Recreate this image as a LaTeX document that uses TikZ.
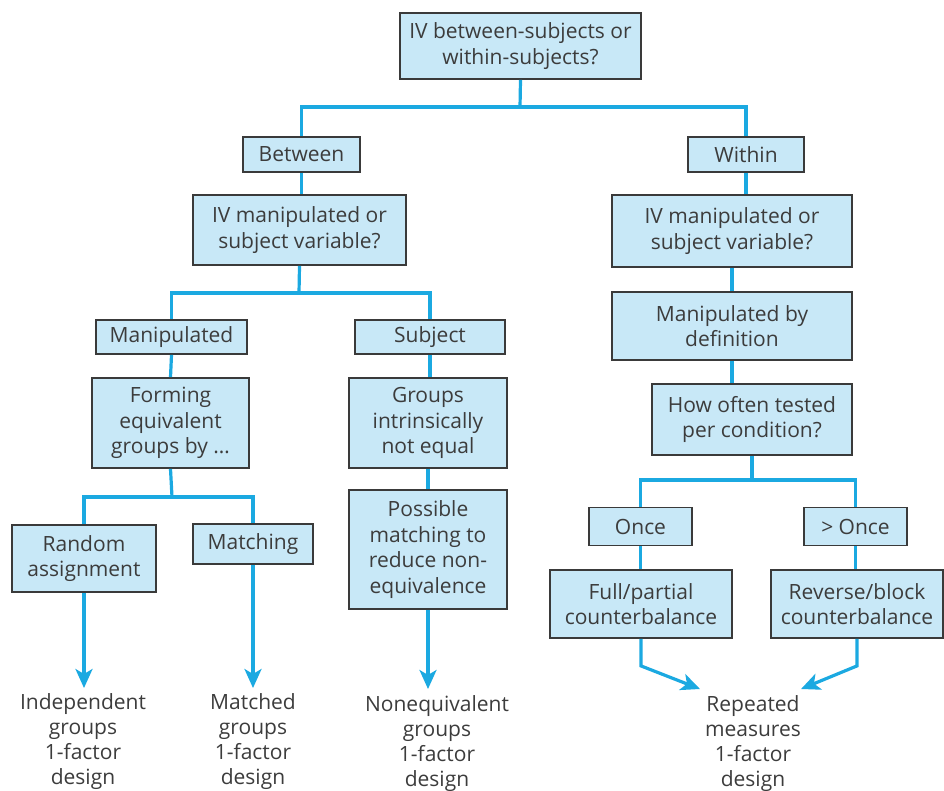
\documentclass[tikz,border=0pt]{standalone}
\usepackage{fontspec}
\setmainfont{Open Sans}
\usetikzlibrary{arrows.meta}
\definecolor{boxfill}{HTML}{C8E8F7}
\definecolor{boxline}{HTML}{3A3A3A}
\definecolor{conncol}{HTML}{1BA9E1}
\definecolor{txtcol}{HTML}{3C3C3C}
\tikzset{
  bx/.style={draw=boxline, fill=boxfill, line width=1.8pt, align=center, inner sep=0pt,
    text=txtcol, font=\fontsize{21}{25.5}\selectfont},
  lbl/.style={align=center, inner sep=0pt, text=txtcol, font=\fontsize{21}{25}\selectfont, anchor=north},
  conn/.style={draw=conncol, line width=3.2pt},
  arr/.style={conn, -{Stealth[length=19pt,width=17pt,inset=5pt]}}
}
\begin{document}
\begin{tikzpicture}[x=1pt,y=-1pt]
\useasboundingbox (0,0) rectangle (944,790);
% boxes
\node[bx, minimum width=241pt, minimum height=66pt] (top) at (520.5,46) {IV between-subjects or\\within-subjects?};
\node[bx, minimum width=117pt, minimum height=35pt] (between) at (301.5,154.5) {Between};
\node[bx, minimum width=116pt, minimum height=35pt] (within) at (746,154.5) {Within};
\node[bx, minimum width=213pt, minimum height=70pt] (ivL) at (299.5,230) {IV manipulated or\\subject variable?};
\node[bx, minimum width=240pt, minimum height=72pt] (ivR) at (732,231) {IV manipulated or\\subject variable?};
\node[bx, minimum width=151pt, minimum height=34pt] (manip) at (171.5,337) {Manipulated};
\node[bx, minimum width=150pt, minimum height=34pt] (subj) at (430,337) {Subject};
\node[bx, minimum width=157pt, minimum height=90pt] (form) at (170.5,423) {Forming\\equivalent\\groups by \dots};
\node[bx, minimum width=158pt, minimum height=90pt] (grp) at (428,423) {Groups\\intrinsically\\not equal};
\node[bx, minimum width=144pt, minimum height=67pt] (rand) at (84,558.5) {Random\\assignment};
\node[bx, minimum width=120pt, minimum height=40pt] (match) at (253,544) {Matching};
\node[bx, minimum width=158pt, minimum height=119pt] (poss) at (428,549.5) {Possible\\matching to\\reduce non-\\equivalence};
\node[bx, minimum width=240pt, minimum height=68pt] (mbd) at (732,326) {Manipulated by\\definition};
\node[bx, minimum width=200pt, minimum height=71pt] (how) at (752,419.5) {How often tested\\per condition?};
\node[bx, minimum width=103pt, minimum height=38pt] (once) at (640.5,526.5) {Once};
\node[bx, minimum width=103pt, minimum height=38pt] (monce) at (855.5,526.5) {> Once};
\node[bx, minimum width=182pt, minimum height=68pt] (full) at (641,604) {Full/partial\\counterbalance};
\node[bx, minimum width=172pt, minimum height=68pt] (rev) at (857,604) {Reverse/block\\counterbalance};
% outcome labels
\node[lbl] (ind) at (83,693) {Independent\\groups\\1-factor\\design};
\node[lbl] (mat) at (253,693) {Matched\\groups\\1-factor\\design};
\node[lbl] (neq) at (437,695) {Nonequivalent\\groups\\1-factor\\design};
\node[lbl] (rm) at (753,695) {Repeated\\measures\\1-factor\\design};
% junctions
\coordinate (j1) at (520,107);
\coordinate (j2) at (299,293);
\coordinate (j3) at (172,497);
\coordinate (j4) at (752,480);
\coordinate (tipL) at (700,689);
\coordinate (tipR) at (801,689);
% connectors
\draw[conn] (top.south) -- (j1);
\draw[conn] (between.north) |- (j1) -| (within.north);
\draw[conn] (between.south) -- (between.south |- ivL.north);
\draw[conn] (within.south) -- (within.south |- ivR.north);
\draw[conn] (ivL.south) -- (j2);
\draw[conn] (manip.north) |- (j2) -| (subj.north);
\draw[conn] (manip.south) -- (form.north);
\draw[conn] (subj.south) -- (subj.south |- grp.north);
\draw[conn] (grp.south) -- (poss.north);
\draw[conn] (form.south) -- (j3);
\draw[conn] (rand.north) |- (j3) -| (match.north);
\draw[arr] (rand.south) -- ([yshift=5pt]rand.south |- ind.north);
\draw[arr] (match.south) -- ([yshift=5pt]match.south |- mat.north);
\draw[arr] (poss.south) -- ([yshift=6pt]poss.south |- neq.north);
\draw[conn] (ivR.south) -- (mbd.north);
\draw[conn] (mbd.south) -- (mbd.south |- how.north);
\draw[conn] (how.south) -- (j4);
\draw[conn] (once.north) |- (j4) -| (monce.north);
\draw[conn] (once.south) -- (once.south |- full.north);
\draw[conn] (monce.south) -- (monce.south |- rev.north);
\draw[arr] (full.south) -- ++(0,27) -- (tipL);
\draw[arr] (rev.south) -- ++(0,27) -- (tipR);
\end{tikzpicture}
\end{document}
